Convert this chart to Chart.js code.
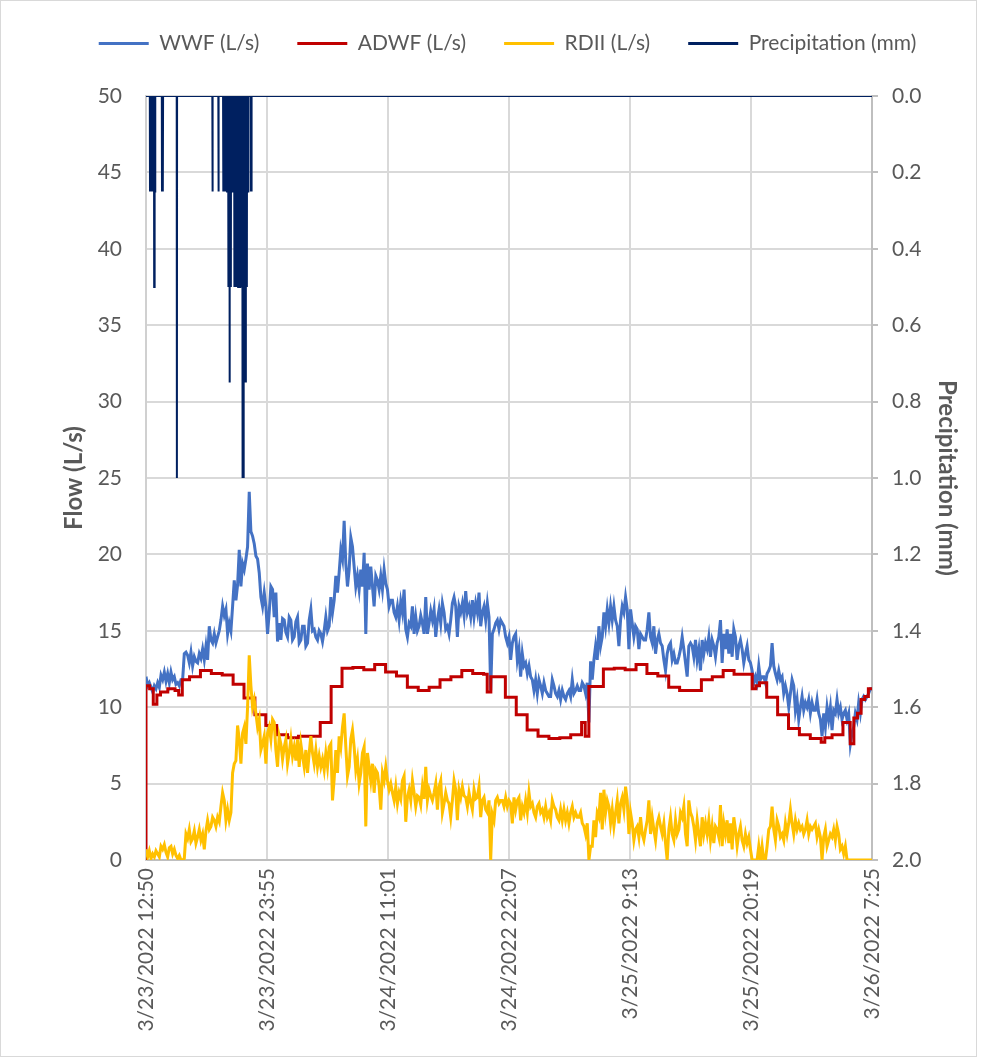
<!DOCTYPE html>
<html>
<head>
<meta charset="utf-8">
<script src="https://cdn.jsdelivr.net/npm/chart.js@4.4.1/dist/chart.umd.min.js"></script>
<style>
  html, body { margin: 0; padding: 0; background: #ffffff; }
  #wrap { position: relative; width: 983px; height: 1060px; }
  #frame { position: absolute; left: 0; top: 0; width: 977px; height: 1057px; border: 1px solid #D9D9D9; box-sizing: border-box; }
  #c { position: absolute; left: 0; top: 0; }
</style>
</head>
<body>
<div id="wrap"><div id="frame"></div><canvas id="c" width="983" height="1060"></canvas></div>
<script>
// ---------------- DATA ----------------
const TOTAL_MIN = 3995; // 3/23/2022 12:50 -> 3/26/2022 7:25
const tickMinutes = [0, 665, 1331, 1997, 2663, 3329, 3995];
const tickLabels = ['3/23/2022 12:50', '3/23/2022 23:55', '3/24/2022 11:01', '3/24/2022 22:07',
                    '3/25/2022 9:13', '3/25/2022 20:19', '3/26/2022 7:25'];

// WWF (L/s), equally spaced samples over the period (437 samples)
const wwf = [
  12.0, 11.4, 11.6, 11.3, 11.0, 11.4, 11.2, 11.6, 11.3, 12.1,
  11.8, 12.3, 11.7, 12.2, 11.6, 12.3, 11.8, 12.0, 11.5, 11.6,
  11.4, 11.8, 11.8, 13.5, 13.6, 13.4, 12.9, 13.6, 12.7, 13.3,
  13.0, 12.9, 13.5, 13.2, 13.8, 13.1, 14.0, 13.1, 15.3, 14.4,
  14.2, 14.8, 14.2, 14.6, 15.0, 15.7, 16.6, 16.0, 16.4, 14.8,
  15.5, 15.0, 16.6, 18.3, 17.0, 18.0, 20.3, 17.9, 19.4, 19.0,
  19.7, 20.5, 24.1, 21.5, 21.2, 20.7, 19.9, 19.7, 18.8, 17.2,
  16.6, 17.5, 16.6, 14.8, 16.2, 17.9, 17.7, 15.9, 17.5, 14.3,
  15.5, 14.4, 15.8, 15.7, 14.9, 14.6, 15.9, 15.7, 14.4, 14.6,
  15.6, 15.9, 14.2, 14.4, 15.3, 15.3, 14.0, 14.2, 15.7, 16.4,
  15.0, 15.1, 14.6, 14.4, 15.0, 14.8, 14.3, 15.0, 15.9, 15.0,
  15.3, 17.2, 16.2, 17.0, 18.6, 17.5, 18.8, 20.3, 19.7, 22.2,
  19.4, 17.9, 19.0, 21.1, 20.5, 19.2, 17.9, 18.6, 17.7, 19.0,
  17.9, 20.1, 14.8, 19.4, 17.7, 19.2, 17.9, 16.6, 18.6, 18.3,
  17.7, 18.6, 17.7, 19.0, 18.1, 17.7, 16.6, 17.0, 17.0, 16.2,
  15.9, 16.6, 15.7, 16.9, 16.2, 17.7, 15.1, 14.6, 15.5, 15.3,
  16.6, 14.8, 15.9, 15.0, 15.3, 16.0, 15.5, 14.8, 17.2, 14.8,
  15.5, 16.3, 15.7, 16.4, 14.6, 15.7, 16.4, 15.5, 16.8, 16.2,
  15.1, 15.3, 14.8, 15.7, 16.8, 17.2, 16.6, 14.6, 16.6, 16.2,
  16.8, 16.0, 17.6, 16.2, 16.6, 15.9, 17.0, 15.9, 16.8, 16.2,
  17.5, 15.3, 16.2, 16.6, 15.7, 16.8, 15.9, 11.1, 14.8, 15.1,
  15.5, 15.7, 15.1, 15.7, 15.5, 15.3, 14.6, 14.2, 14.6,
  13.1, 14.2, 14.6, 14.8, 13.1, 13.8, 12.0, 13.5, 12.7, 12.9,
  12.2, 12.7, 12.0, 11.8, 11.1, 11.8, 10.9, 11.8, 11.4, 10.9,
  11.6, 11.1, 10.9, 10.7, 10.7, 11.8, 11.4, 10.9, 10.7, 11.1,
  10.5, 11.1, 10.7, 10.5, 10.9, 11.1, 10.7, 11.8, 10.9, 11.1,
  11.4, 11.1, 11.1, 11.6, 11.4, 10.9, 11.6, 9.0, 13.0, 11.8,
  13.1, 14.0, 13.1, 15.3, 14.0, 14.6, 16.2, 15.3, 16.4, 15.5,
  16.6, 15.7, 16.6, 15.7, 15.3, 14.0, 15.7, 16.6, 16.2, 17.2,
  16.4, 13.8, 16.4, 15.5, 14.6, 15.3, 15.1, 13.8, 14.8, 14.6,
  14.4, 14.4, 15.1, 16.2, 14.6, 14.2, 15.3, 13.5, 14.4, 14.8,
  14.2, 14.0, 13.1, 12.4, 13.5, 14.0, 14.2, 13.1, 13.5, 12.9,
  12.9, 13.3, 13.8, 14.6, 13.8, 12.9, 12.0, 14.0, 14.2,
  14.0, 13.3, 14.4, 13.1, 13.8, 12.4, 14.4, 13.5, 14.2, 13.8,
  14.6, 13.3, 14.4, 14.0, 13.3, 14.2, 14.6, 15.7, 12.9, 14.8,
  13.8, 15.1, 13.5, 14.8, 13.3, 15.1, 14.6, 13.1, 14.0, 14.4,
  13.8, 12.9, 13.5, 14.0, 13.1, 12.9, 12.4, 11.6, 12.0, 11.6,
  12.7, 11.8, 12.0, 12.0, 11.6, 12.2, 12.4, 12.7, 14.2, 12.7,
  12.2, 11.8, 12.4, 11.8, 12.0, 10.9, 11.4, 10.9, 10.0, 10.9,
  11.8, 11.4, 9.8, 10.5, 9.2, 10.0, 10.7, 9.8, 10.3, 10.0,
  10.5, 9.6, 10.3, 9.8, 9.8, 10.5, 9.6, 9.2, 8.1, 9.6,
  8.7, 10.0, 9.2, 10.0, 8.5, 9.8, 9.6, 10.5, 9.6, 10.0,
  9.2, 9.6, 9.8, 9.2, 9.6, 7.6, 8.3, 8.7, 9.6, 9.2,
  10.3, 9.6, 10.5, 10.7, 10.5, 10.7, 10.9, 11.2,
  11.2
];

// ADWF (L/s), hourly diurnal profile, equally spaced samples (201 samples)
const adwf = [
  0, 11.4, 11.2, 10.2, 10.8, 11.0, 11.0, 11.2, 11.2, 11.1,
  10.8, 11.8, 11.8, 12.0, 12.0, 12.0, 12.4, 12.4, 12.4, 12.2,
  12.2, 12.2, 12.1, 12.1, 12.1, 11.5, 11.5, 11.5, 10.6, 10.6,
  10.6, 9.5, 9.5, 9.5, 8.8, 8.8, 8.8, 8.2, 8.2, 8.2,
  8.0, 8.0, 8.0, 8.1, 8.1, 8.1, 8.1, 8.1, 8.1, 9.0,
  9.0, 9.0, 11.35, 11.35, 11.35, 12.55, 12.55, 12.55, 12.6, 12.6,
  12.6, 12.45, 12.45, 12.45, 12.8, 12.8, 12.8, 12.3, 12.3, 12.3,
  12.05, 12.05, 12.05, 11.3, 11.3, 11.3, 11.1, 11.1, 11.1, 11.3,
  11.3, 11.3, 11.8, 11.8, 11.8, 12.0, 12.0, 12.0, 12.4, 12.4,
  12.4, 12.2, 12.2, 12.2, 12.15, 11.0, 12.0, 12.0, 12.0, 12.0,
  10.65, 10.65, 10.65, 9.5, 9.5, 9.5, 8.5, 8.5, 8.5, 8.1,
  8.1, 8.1, 7.95, 7.95, 7.95, 8.0, 8.0, 8.0, 8.2, 8.2,
  8.2, 9.0, 8.1, 11.35, 11.35, 11.35, 11.35, 12.5, 12.5, 12.5,
  12.55, 12.55, 12.55, 12.45, 12.45, 12.45, 12.8, 12.8, 12.8, 12.2,
  12.2, 12.2, 12.05, 12.05, 12.05, 11.3, 11.3, 11.3, 11.1, 11.1,
  11.1, 11.1, 11.1, 11.1, 11.8, 11.8, 11.8, 12.0, 12.0, 12.0,
  12.4, 12.4, 12.4, 12.15, 12.15, 12.15, 12.15, 12.15, 11.2, 11.4,
  11.6, 11.6, 10.65, 10.65, 10.65, 9.5, 9.5, 9.5, 8.6, 8.6,
  8.6, 8.2, 8.2, 8.2, 7.95, 7.95, 7.95, 7.7, 8.0, 8.0,
  8.2, 8.2, 8.2, 9.0, 9.0, 7.6, 9.3, 9.6, 10.5, 10.7,
  11.2
];

// RDII (L/s), equally spaced samples over the period (437 samples)
const rdii = [
  0.7, 0.2, 0.6, 0.1, 0.4, 0.2, 0.6, 0.4, 0.2, 0.9,
  0.7, 1.0, 0.5, 0.2, 0.8, 0.9, 0.4, 0.7, 0.3, 0.1,
  0.3, 0.0, 0.0, 0.1, 1.7, 1.4, 2.0, 1.2, 1.4, 1.9,
  1.1, 1.5, 2.0, 1.3, 1.7, 0.7, 1.9, 2.6, 2.0, 2.2,
  2.8, 2.6, 2.2, 2.8, 2.5, 3.5, 4.4, 3.9, 2.6, 3.3,
  2.6, 3.1, 5.7, 6.3, 6.5, 8.8, 7.9, 6.3, 8.3, 8.7,
  7.6, 10.0, 13.4, 11.4, 10.0, 10.5, 9.6, 8.7, 9.2, 7.2,
  7.6, 8.1, 6.3, 8.3, 8.7, 7.9, 9.2, 9.0, 7.2, 6.1,
  8.1, 7.6, 6.6, 7.4, 7.9, 6.3, 7.0, 7.9, 6.8, 7.4,
  6.5, 7.9, 6.1, 7.6, 6.8, 6.1, 7.2, 5.7, 7.0, 8.1,
  7.0, 6.3, 7.2, 6.1, 6.8, 6.1, 6.6, 5.9, 7.0, 6.1,
  7.4, 7.6, 3.9, 5.3, 7.2, 5.7, 8.1, 7.4, 8.7, 9.6,
  7.4, 5.5, 6.1, 7.9, 8.5, 7.4, 5.9, 6.6, 5.0, 5.7,
  7.0, 7.4, 2.2, 7.0, 6.1, 5.2, 6.3, 4.4, 5.9, 5.7,
  4.8, 3.3, 5.7, 5.2, 6.1, 5.2, 4.6, 5.0, 4.4, 3.9,
  4.8, 3.7, 4.4, 4.0, 5.2, 5.5, 2.5, 4.1, 4.6, 3.9,
  5.2, 4.4, 3.5, 4.2, 4.1, 3.6, 4.8, 4.0, 6.1, 3.9,
  4.6, 4.2, 3.9, 4.4, 5.0, 3.3, 4.8, 5.2, 3.1, 3.7,
  4.4, 3.9, 3.7, 2.8, 3.9, 5.2, 4.6, 2.6, 4.6, 4.1,
  4.8, 4.2, 4.1, 3.5, 4.4, 3.8, 3.3, 4.6, 4.0, 4.1,
  4.8, 2.8, 3.9, 4.1, 3.3, 3.1, 3.9, 0.0, 3.0, 2.6,
  3.9, 4.1, 3.7, 3.9, 3.9, 3.5, 4.1, 3.5, 3.9,
  3.7, 2.4, 4.1, 3.3, 3.9, 4.1, 2.6, 3.5, 3.1, 3.9,
  3.1, 4.4, 3.5, 3.7, 3.1, 2.8, 3.5, 3.7, 3.1, 3.3,
  2.8, 3.5, 2.8, 3.1, 2.6, 3.9, 3.5, 3.3, 2.8, 2.6,
  3.3, 2.6, 3.3, 2.6, 3.1, 2.4, 3.1, 3.5, 2.8, 3.1,
  2.8, 2.8, 3.1, 2.4, 2.2, 1.7, 2.4, 0.0, 0.9, 0.9,
  2.6, 1.5, 3.1, 2.8, 4.4, 2.0, 4.6, 3.1, 3.9, 3.5,
  2.4, 3.3, 2.2, 3.1, 3.9, 2.4, 3.7, 4.1, 3.3, 4.8,
  3.9, 1.7, 3.1, 2.4, 1.3, 2.0, 2.2, 1.5, 2.8, 1.7,
  1.3, 2.0, 2.6, 3.9, 1.7, 2.8, 2.0, 1.3, 2.4, 2.8,
  2.2, 1.7, 2.4, 1.1, 0.0, 2.0, 2.8, 1.7, 1.3, 2.6,
  1.7, 2.0, 3.1, 2.8, 3.5, 1.7, 0.9, 3.9, 3.1,
  2.8, 2.2, 1.3, 2.6, 1.7, 0.9, 2.8, 1.7, 2.4, 1.7,
  2.6, 1.3, 2.2, 1.1, 2.2, 2.0, 1.5, 3.6, 0.9, 2.4,
  1.7, 2.6, 1.1, 2.4, 0.7, 2.8, 2.0, 0.9, 1.7, 2.2,
  1.3, 0.9, 1.7, 1.1, 1.5, 0.7, 0.0, 0.0, 0.0, 0.0,
  0.9, 0.0, 0.9, 0.0, 0.0, 0.9, 2.0, 2.2, 3.5, 2.0,
  1.3, 2.6, 2.2, 1.5, 1.7, 1.3, 2.4, 1.7, 2.4, 3.3,
  2.4, 1.7, 2.6, 2.0, 2.4, 2.0, 2.2, 1.7, 2.0, 2.6,
  1.7, 2.2, 2.0, 2.2, 2.4, 1.5, 2.0, 1.5, 0.0, 1.5,
  2.0, 0.9, 1.3, 1.7, 1.5, 2.0, 1.3, 2.2, 1.7, 0.7,
  0.9, 0.4, 0.9, 0.0, 0.0, 0.0, 0.0, 0.0, 0.0, 0.0,
  0.0, 0.0, 0.0, 0.0, 0.0, 0.0, 0.0, 0.0,
  0.0
];

// Rain gauge tips: minutes after 3/23/2022 12:50 and depth (mm)
const precipMinutes = [22, 29, 36, 45, 50, 88, 93, 170, 366, 399,
  425, 432, 439, 446, 453, 460, 467, 474, 486, 493, 500, 507, 512,
  518, 525, 531, 537, 543, 549, 555, 562, 577, 581];
const precipMm = [0.25, 0.25, 0.25, 0.5, 0.25, 0.25, 0.25, 1.0, 0.25, 0.25,
  0.25, 0.25, 0.25, 0.25, 0.5, 0.75, 0.5, 0.25, 0.5, 0.5, 0.5, 0.5, 0.25,
  0.5, 0.5, 1.0, 1.0, 0.75, 0.75, 0.5, 0.25, 0.25, 0.25];

// ---------------- BUILD ----------------
const sampleMin = (i, n) => i * TOTAL_MIN / (n - 1);
const toXY = arr => arr.map((v, i) => ({ x: sampleMin(i, arr.length), y: v }));

const precipPts = [{ x: 0, y: 0 }];
precipMinutes.forEach((t, i) => {
  precipPts.push({ x: t - 1, y: 0 }, { x: t, y: precipMm[i] }, { x: t + 1, y: 0 });
});
precipPts.push({ x: TOTAL_MIN, y: 0 });

// layout targets
const LAYOUT_TOP = -5;
const PLOT_TOP = 96;
const PLOT_LEFT = 146;
const PLOT_RIGHT = 872;
const PLOT_BOTTOM = 860;
const CANVAS_W = 983, CANVAS_H = 1060;
const PAD_LEFT = 32;

const legendBand = {
  id: 'legendBand',
  beforeLayout(chart) {
    const lg = chart.legend;
    if (lg && !lg._bandFixed) {
      const orig = lg.fit.bind(lg);
      lg.fit = function () { orig(); this.height = PLOT_TOP - LAYOUT_TOP; };
      lg._bandFixed = true;
    }
  }
};

Chart.defaults.font.family = "Lato, 'Open Sans', sans-serif";
Chart.defaults.font.size = 21;
Chart.defaults.color = '#595959';

const GRID = '#D9D9D9';
const AXIS = '#BFBFBF';

new Chart(document.getElementById('c'), {
  type: 'line',
  data: {
    datasets: [
      { label: 'WWF (L/s)', data: toXY(wwf), borderColor: '#4472C4', backgroundColor: '#4472C4',
        borderWidth: 3, pointRadius: 0, tension: 0, yAxisID: 'y', order: 4 },
      { label: 'ADWF (L/s)', data: toXY(adwf), borderColor: '#C00000', backgroundColor: '#C00000',
        borderWidth: 3, pointRadius: 0, stepped: 'after', yAxisID: 'y', order: 3 },
      { label: 'RDII (L/s)', data: toXY(rdii), borderColor: '#FFC000', backgroundColor: '#FFC000',
        borderWidth: 3, pointRadius: 0, tension: 0, yAxisID: 'y', order: 2 },
      { label: 'Precipitation (mm)', data: precipPts, borderColor: '#002060', backgroundColor: '#002060',
        borderWidth: 2, pointRadius: 0, tension: 0, yAxisID: 'y2', order: 1 }
    ]
  },
  options: {
    responsive: false,
    animation: false,
    events: [],
    layout: { padding: { top: LAYOUT_TOP, left: PAD_LEFT, right: 0, bottom: 0 } },
    plugins: {
      tooltip: { enabled: false },
      legend: {
        position: 'top',
        labels: {
          boxWidth: 50, boxHeight: 3, padding: 38, color: '#595959', font: { size: 21 },
          generateLabels(chart) {
            const items = Chart.defaults.plugins.legend.labels.generateLabels(chart);
            items.forEach(it => { it.lineWidth = 0; it.fillStyle = it.strokeStyle; });
            return items.sort((a, b) => a.datasetIndex - b.datasetIndex);
          }
        }
      }
    },
    scales: {
      x: {
        type: 'linear', min: 0, max: TOTAL_MIN,
        afterBuildTicks: s => { s.ticks = tickMinutes.map(v => ({ value: v })); },
        afterFit: s => { s.height = CANVAS_H - PLOT_BOTTOM; },
        ticks: { autoSkip: false, minRotation: 90, maxRotation: 90, padding: 8,
                 callback: (v, i) => tickLabels[i] },
        grid: { color: GRID, lineWidth: 2, drawTicks: false },
        border: { color: AXIS, width: 2 }
      },
      y: {
        position: 'left', min: 0, max: 50,
        afterFit: s => { s.width = PLOT_LEFT - PAD_LEFT; },
        ticks: { stepSize: 5, padding: 24 },
        grid: { color: GRID, lineWidth: 2, drawTicks: false },
        border: { color: '#D0D0D0', width: 2 },
        title: { display: true, text: 'Flow (L/s)', color: '#595959',
                 font: { size: 24, weight: 'bold' }, padding: { top: 28, bottom: 0 } }
      },
      y2: {
        position: 'right', min: 0, max: 2, reverse: true,
        afterFit: s => { s.width = CANVAS_W - PLOT_RIGHT; },
        ticks: { stepSize: 0.2, padding: 14, callback: v => Number(v).toFixed(1) },
        grid: { drawOnChartArea: false, color: AXIS, lineWidth: 2, tickLength: 6 },
        border: { color: AXIS, width: 2 },
        title: { display: true, text: 'Precipitation (mm)', color: '#595959',
                 font: { size: 24, weight: 'bold' }, padding: { top: 22, bottom: 0 } }
      }
    }
  },
  plugins: [legendBand]
});
</script>
</body>
</html>
